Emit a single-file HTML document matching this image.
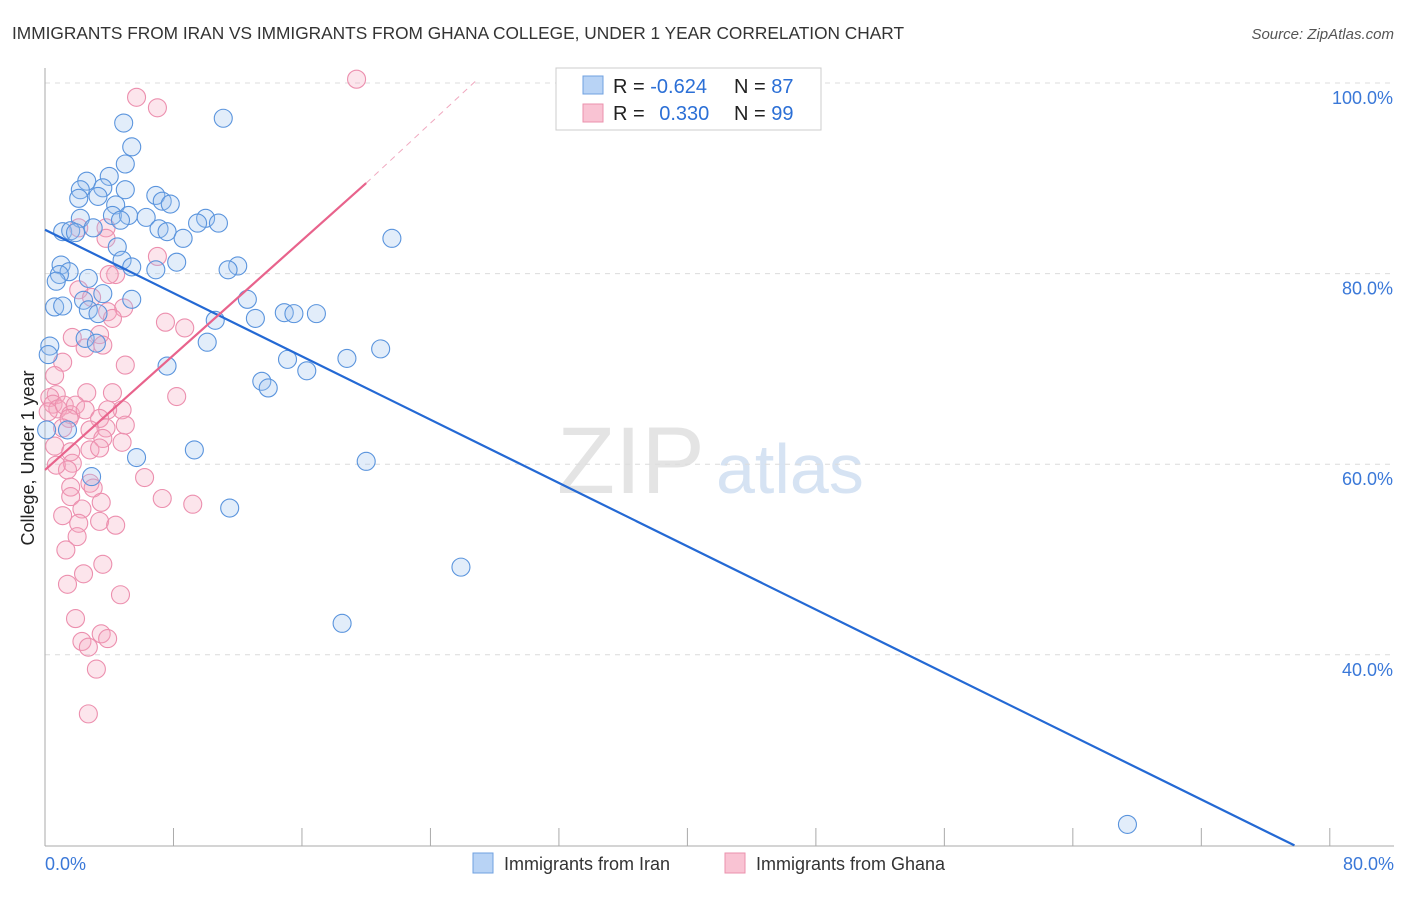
<!DOCTYPE html>
<html><head><meta charset="utf-8"><style>
body{margin:0;background:#fff;font-family:"Liberation Sans",sans-serif;}
svg text{font-family:"Liberation Sans",sans-serif;}
</style></head><body>
<svg id="c" width="1406" height="892" viewBox="0 0 1406 892">
<text x="12" y="39" font-size="17.3" fill="#333">IMMIGRANTS FROM IRAN VS IMMIGRANTS FROM GHANA COLLEGE, UNDER 1 YEAR CORRELATION CHART</text>
<text x="1394" y="39" font-size="15" fill="#555" font-style="italic" text-anchor="end">Source: ZipAtlas.com</text>
<text x="0" y="0" font-size="18" fill="#222" transform="translate(34,458) rotate(-90)" text-anchor="middle">College, Under 1 year</text>
<text x="557" y="493" font-size="95" fill="#e4e4e4" font-family="Liberation Serif">ZIP</text>
<text x="716" y="493" font-size="70" fill="#d6e3f3">atlas</text>
<g id="grid"></g><g id="axes"></g><g id="pts"></g><g id="lines"></g>
<g>
<rect x="556" y="68" width="265" height="62" fill="#fff" stroke="#ccc"/>
<rect x="583" y="76" width="20" height="18" fill="#b8d3f5" stroke="#6fa0e0"/>
<rect x="583" y="104" width="20" height="18" fill="#f9c3d3" stroke="#eb91ad"/>
<text x="613" y="93" font-size="20" fill="#222">R = <tspan fill="#2b6fd6">-0.624</tspan></text>
<text x="734" y="93" font-size="20" fill="#222">N = <tspan fill="#2b6fd6">87</tspan></text>
<text x="613" y="120" font-size="20" fill="#222">R = <tspan fill="#2b6fd6" dx="9">0.330</tspan></text>
<text x="734" y="120" font-size="20" fill="#222">N = <tspan fill="#2b6fd6">99</tspan></text>
</g>
<g>
<rect x="473" y="853" width="20" height="20" fill="#b8d3f5" stroke="#6fa0e0"/>
<text x="504" y="870" font-size="18" fill="#333">Immigrants from Iran</text>
<rect x="725" y="853" width="20" height="20" fill="#f9c3d3" stroke="#eb91ad"/>
<text x="756" y="870" font-size="18" fill="#333">Immigrants from Ghana</text>
</g>
</svg>
<script>
const yTicks=[100,80,60,40];
const xTickLabels=["0.0%","80.0%"];
const iranX=[4.9,11.1,5.4,5.0,4.0,2.6,2.2,3.6,5.0,3.3,2.1,6.9,7.3,7.8,4.4,4.2,5.2,6.3,2.2,10.0,10.8,9.5,4.7,3.0,1.1,1.6,1.9,7.1,7.6,8.6,21.6,4.5,4.8,8.2,5.4,1.0,12.0,11.4,1.5,6.9,0.9,0.7,2.7,12.6,2.4,5.4,3.6,0.6,1.1,2.7,3.3,14.9,15.5,16.9,13.1,10.6,2.5,3.2,10.1,0.3,20.9,0.2,15.1,18.8,7.6,16.3,13.5,13.9,0.1,1.4,9.3,5.7,20.0,2.9,11.5,25.9,18.5,67.4];
const iranY=[95.8,96.3,93.3,91.5,90.2,89.7,88.8,89.0,88.8,88.1,87.9,88.2,87.6,87.3,87.2,86.1,86.1,85.9,85.8,85.8,85.3,85.3,85.6,84.8,84.4,84.5,84.3,84.7,84.4,83.7,83.7,82.8,81.4,81.2,80.7,80.9,80.8,80.4,80.2,80.4,79.9,79.2,79.5,77.3,77.2,77.3,77.9,76.5,76.6,76.2,75.8,75.9,75.8,75.8,75.3,75.1,73.2,72.7,72.8,72.4,72.1,71.5,71.0,71.1,70.3,69.8,68.7,68.0,63.6,63.6,61.5,60.7,60.3,58.7,55.4,49.2,43.3,22.2];
const ghanaX=[19.4,5.7,7.0,3.8,2.1,3.8,7.0,4.4,4.0,2.1,2.9,4.9,3.9,4.2,7.5,8.7,1.7,3.4,3.6,2.5,1.1,5.0,0.6,8.2,2.6,4.2,0.7,0.3,0.5,0.8,0.2,1.2,1.6,1.9,2.5,4.8,3.9,1.5,3.4,5.0,3.8,2.8,1.1,3.6,4.8,0.6,2.8,1.6,3.4,1.7,1.4,0.7,6.2,2.8,1.6,3.0,1.6,7.3,3.5,9.2,1.1,2.3,3.4,4.4,2.1,2.0,1.3,3.6,2.4,1.4,4.7,1.9,3.5,3.9,2.3,2.7,3.2,2.7];
const ghanaY=[100.4,98.5,97.4,84.8,84.8,83.7,81.8,79.9,79.9,78.3,77.5,76.4,76.0,75.3,74.9,74.3,73.3,73.6,72.5,72.2,70.7,70.4,69.3,67.1,67.5,67.5,67.3,67.0,66.3,65.8,65.5,66.2,65.2,66.2,65.7,65.7,65.7,64.8,64.8,64.1,63.8,63.6,63.8,62.7,62.3,61.9,61.5,61.3,61.7,60.1,59.4,59.9,58.6,58.0,57.6,57.5,56.6,56.4,56.0,55.8,54.6,55.3,54.0,53.6,53.8,52.4,51.0,49.5,48.5,47.4,46.3,43.8,42.2,41.7,41.4,40.8,38.5,33.8];
const iranTrend=[[0,84.6],[77.8,20]];
const ghanaTrend=[[0,59.4],[20,89.5]];
const ghanaDash=[[20,89.5],[27,100.5]];
const NS="http://www.w3.org/2000/svg";
const X=v=>45+v*16.06, Y=v=>83+(100-v)*9.53;
function mk(t,a,p){const e=document.createElementNS(NS,t);for(const k in a)e.setAttribute(k,a[k]);p.appendChild(e);return e;}
const grid=document.getElementById('grid');
yTicks.forEach(t=>{
 const l=mk('line',{x1:45,x2:1394,y1:Y(t),y2:Y(t),stroke:'#dcdcdc','stroke-dasharray':'5,5'},grid);
 
 
 const tx=mk('text',{x:1393,y:Y(t)+21,'font-size':18,fill:'#3a78d8','text-anchor':'end'},grid);
 tx.textContent=t.toFixed(1)+'%';
 
 
});
const ax=document.getElementById('axes');
mk('line',{x1:45,x2:45,y1:68,y2:846,stroke:'#aaa'},ax);
mk('line',{x1:45,x2:1394,y1:846,y2:846,stroke:'#aaa'},ax);
for(let i=0;i<=10;i++){mk('line',{x1:X(i*8),x2:X(i*8),y1:828,y2:846,stroke:'#aaa'},ax);}
const t0=mk('text',{x:45,y:870,'font-size':18,fill:'#3a78d8'},ax);t0.textContent=xTickLabels[0];


const t1=mk('text',{x:1394,y:870,'font-size':18,fill:'#3a78d8','text-anchor':'end'},ax);t1.textContent=xTickLabels[1];


const pts=document.getElementById('pts');
ghanaX.forEach((x,i)=>{const c=mk('circle',{cx:X(x),cy:Y(ghanaY[i]),r:9,fill:'rgba(246,168,192,0.3)',stroke:'#ec8fae','stroke-width':1.1},pts);
 
 });
iranX.forEach((x,i)=>{const c=mk('circle',{cx:X(x),cy:Y(iranY[i]),r:9,fill:'rgba(160,196,240,0.3)',stroke:'#5a94dd','stroke-width':1.1},pts);
 
 });
const ln=document.getElementById('lines');
const a=mk('line',{x1:X(iranTrend[0][0]),y1:Y(iranTrend[0][1]),x2:X(iranTrend[1][0]),y2:Y(iranTrend[1][1]),stroke:'#2469d4','stroke-width':2.2},ln);


const b=mk('line',{x1:X(ghanaTrend[0][0]),y1:Y(ghanaTrend[0][1]),x2:X(ghanaTrend[1][0]),y2:Y(ghanaTrend[1][1]),stroke:'#e8638c','stroke-width':2.2},ln);


const d=mk('line',{x1:X(ghanaDash[0][0]),y1:Y(ghanaDash[0][1]),x2:X(ghanaDash[1][0]),y2:Y(ghanaDash[1][1]),stroke:'#f0a8bf','stroke-width':1,'stroke-dasharray':'6,5'},ln);


</script>
</body></html>
